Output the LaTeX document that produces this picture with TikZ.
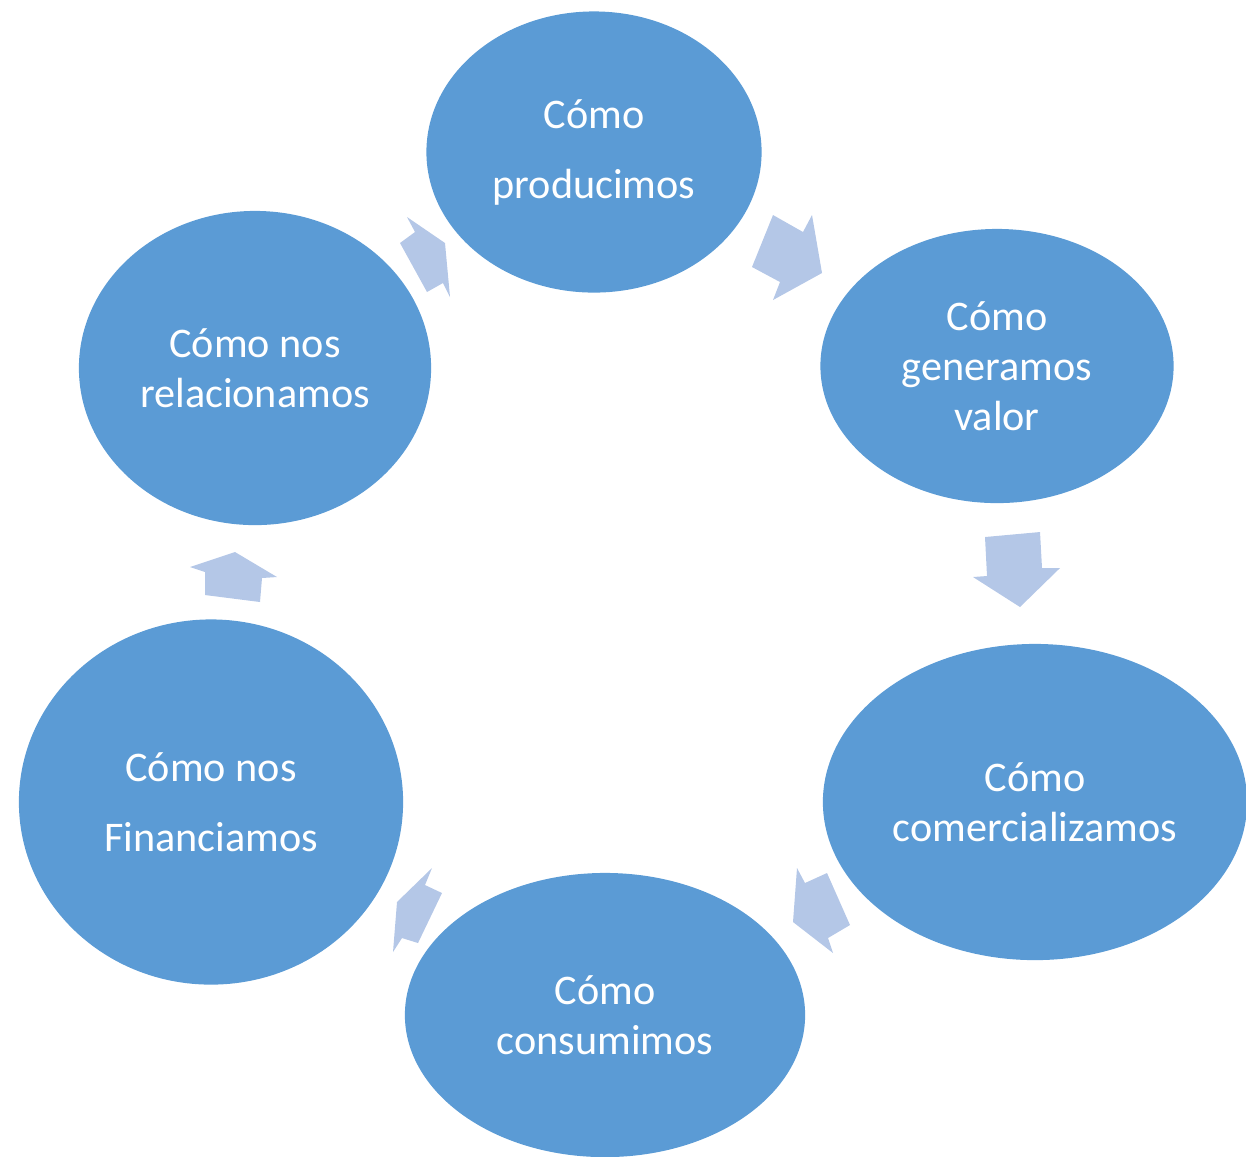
\documentclass[tikz,border=0pt]{standalone}
\usepackage{fontspec}
\setmainfont{Carlito}
\usetikzlibrary{shapes.geometric}
\definecolor{azul}{HTML}{5B9BD5}
\definecolor{celeste}{HTML}{B4C7E7}
\begin{document}
\begin{tikzpicture}[x=0.01cm, y=-0.01cm,
		etapa/.style={ellipse, fill=azul, text=white, inner sep=0pt, align=center,
			font=\fontsize{12}{14.2}\selectfont},
		flecha/.style={fill=celeste}]
	\useasboundingbox (0,0) rectangle (1246,1156);
	% etapas del ciclo
	\node[etapa, minimum width=3.35cm, minimum height=2.81cm] (prod) at (594,152) {Cómo\\[5.7pt]producimos};
	\node[etapa, minimum width=3.53cm, minimum height=2.74cm] (valor) at (997,366) {Cómo\\generamos\\valor};
	\node[etapa, minimum width=4.24cm, minimum height=3.16cm] (comer) at (1035,802) {Cómo\\comercializamos};
	\node[etapa, minimum width=4.00cm, minimum height=2.84cm] (cons) at (605,1015) {Cómo\\consumimos};
	\node[etapa, minimum width=3.84cm, minimum height=3.65cm] (fin) at (211,802) {Cómo nos\\[5.7pt]Financiamos};
	\node[etapa, minimum width=3.52cm, minimum height=3.14cm] (rel) at (255,368) {Cómo nos\\relacionamos};
	% flechas entre etapas
	\fill[flecha] (773,215) -- (803,232) -- (812,215) -- (822,273) -- (773,300) -- (780,282) -- (752,267) -- cycle;
	\fill[flecha] (985,537) -- (1040,532) -- (1042,568) -- (1060,568) -- (1020,607) -- (973,577) -- (987,576) -- cycle;
	\fill[flecha] (797,868) -- (805,883) -- (827,873) -- (850,925) -- (828,938) -- (833,953) -- (793,922) -- cycle;
	\fill[flecha] (432,868) -- (425,885) -- (442,893) -- (418,943) -- (402,938) -- (393,952) -- (397,902) -- cycle;
	\fill[flecha] (190,567) -- (235,552) -- (277,577) -- (262,578) -- (260,602) -- (205,595) -- (205,572) -- cycle;
	\fill[flecha] (407,217) -- (415,232) -- (400,243) -- (427,292) -- (443,283) -- (450,297) -- (445,243) -- cycle;
\end{tikzpicture}
\end{document}
